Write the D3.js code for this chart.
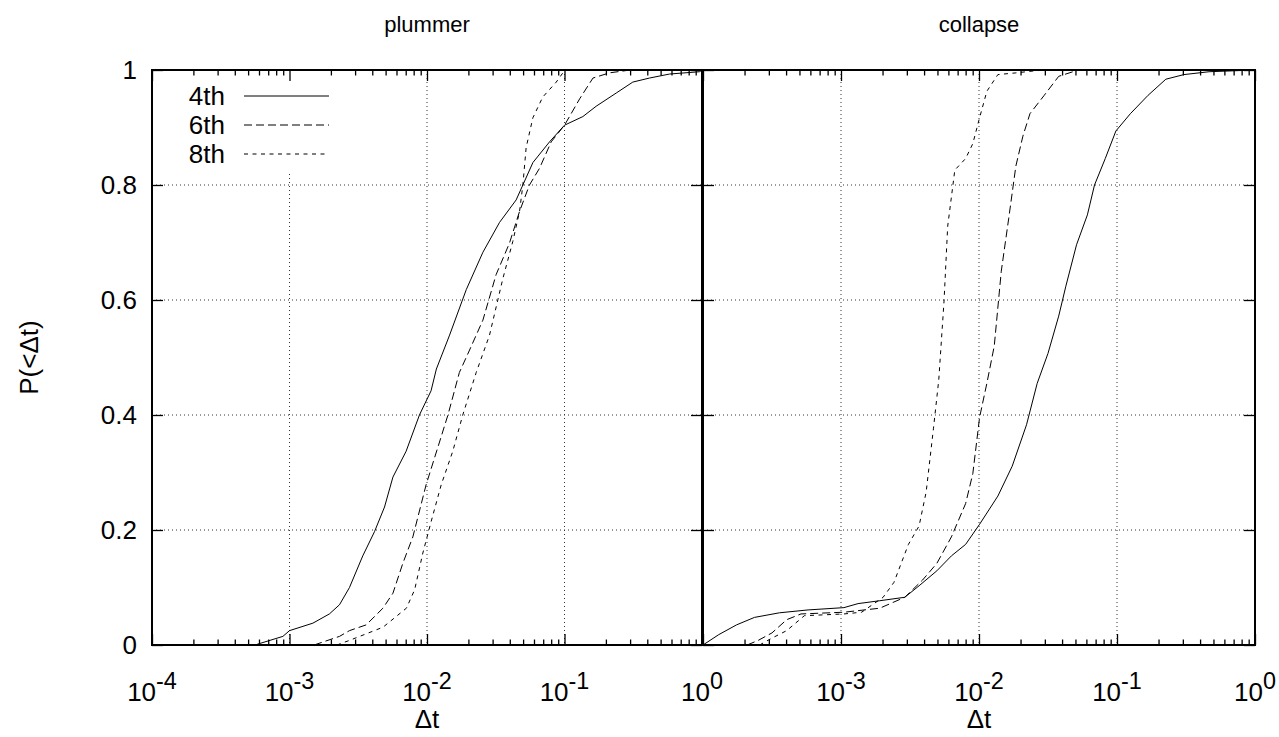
<!DOCTYPE html>
<html><head><meta charset="utf-8">
<script src="https://cdn.jsdelivr.net/npm/d3@7"></script>
<style>
body{margin:0;background:#fff}
svg{display:block}
text{font-family:"Liberation Sans",Arial,Helvetica,sans-serif;fill:#000}
</style>
</head><body>
<svg id="chart" width="1279" height="737"></svg>
<script>
// ---------------- data ----------------
const panelTitles = ["plummer", "collapse"];
const seriesNames = ["4th", "6th", "8th"];
const xTickValues = [1e-4, 1e-3, 1e-2, 1e-1, 1];
const xTickExponents = ["-4", "-3", "-2", "-1", "0"];
const yTickValues = [0, 0.2, 0.4, 0.6, 0.8, 1];
const yTickLabels = ["0", "0.2", "0.4", "0.6", "0.8", "1"];
const xAxisTitle = "Δt";
const yAxisTitle = "P(<Δt)";

// plummer, 4th order
const plummer4Dt = [5.6e-4, 8.95e-4, 1.0e-3, 1.48e-3, 1.95e-3, 2.31e-3, 2.73e-3, 3.41e-3, 4.15e-3, 4.91e-3, 5.65e-3, 7.05e-3, 8.81e-3, 1.07e-2, 1.17e-2, 1.46e-2, 1.93e-2, 2.55e-2, 3.37e-2, 4.45e-2, 5.89e-2, 7.78e-2, 0.1, 0.136, 0.170, 0.238, 0.314, 0.415, 0.581, 0.959, 1.0];
const plummer4P  = [0, 0.015, 0.025, 0.038, 0.054, 0.070, 0.10, 0.155, 0.197, 0.24, 0.292, 0.337, 0.40, 0.442, 0.48, 0.539, 0.618, 0.683, 0.735, 0.774, 0.839, 0.875, 0.904, 0.919, 0.937, 0.96, 0.979, 0.986, 0.993, 0.997, 1.0];
// plummer, 6th order
const plummer6Dt = [1.51e-3, 2.31e-3, 2.73e-3, 3.61e-3, 4.78e-3, 5.65e-3, 6.67e-3, 7.89e-3, 9.86e-3, 1.20e-2, 1.42e-2, 1.72e-2, 2.04e-2, 2.55e-2, 3.18e-2, 3.98e-2, 4.71e-2, 5.56e-2, 6.58e-2, 8.0e-2, 0.1, 0.129, 0.161, 0.212, 0.281, 0.316];
const plummer6P  = [0, 0.015, 0.025, 0.035, 0.064, 0.09, 0.142, 0.188, 0.279, 0.344, 0.40, 0.474, 0.513, 0.565, 0.644, 0.699, 0.754, 0.80, 0.829, 0.875, 0.904, 0.95, 0.986, 0.995, 0.999, 1.0];
// plummer, 8th order
const plummer8Dt = [2.21e-3, 2.73e-3, 4.79e-3, 7.08e-3, 8.13e-3, 9.33e-3, 1.07e-2, 1.27e-2, 1.54e-2, 1.82e-2, 2.28e-2, 2.85e-2, 3.56e-2, 4.21e-2, 4.71e-2, 4.98e-2, 5.26e-2, 5.89e-2, 6.95e-2, 8.71e-2, 0.1, 0.105];
const plummer8P  = [0, 0.008, 0.031, 0.064, 0.096, 0.16, 0.214, 0.279, 0.337, 0.40, 0.474, 0.539, 0.637, 0.702, 0.754, 0.80, 0.865, 0.917, 0.953, 0.979, 0.999, 1.0];

// collapse, 4th order
const collapse4Dt = [1.0e-4, 1.30e-4, 1.75e-4, 2.36e-4, 3.58e-4, 5.77e-4, 1.05e-3, 1.33e-3, 1.91e-3, 2.90e-3, 3.68e-3, 4.95e-3, 6.31e-3, 8.0e-3, 1.01e-2, 1.37e-2, 1.74e-2, 2.21e-2, 2.64e-2, 3.16e-2, 3.78e-2, 4.26e-2, 5.09e-2, 6.10e-2, 6.87e-2, 8.22e-2, 9.82e-2, 0.125, 0.168, 0.226, 0.305, 0.465, 1.0];
const collapse4P  = [0, 0.018, 0.035, 0.048, 0.056, 0.061, 0.065, 0.072, 0.077, 0.083, 0.103, 0.129, 0.155, 0.175, 0.21, 0.259, 0.311, 0.383, 0.455, 0.507, 0.572, 0.624, 0.696, 0.748, 0.80, 0.846, 0.894, 0.924, 0.956, 0.984, 0.992, 0.997, 1.0];
// collapse, 6th order
const collapse6Dt = [2.09e-4, 2.51e-4, 3.16e-4, 4.04e-4, 5.13e-4, 1.05e-3, 1.91e-3, 2.90e-3, 3.90e-3, 4.95e-3, 6.31e-3, 8.0e-3, 9.02e-3, 1.01e-2, 1.14e-2, 1.29e-2, 1.45e-2, 1.64e-2, 1.85e-2, 2.08e-2, 2.34e-2, 2.97e-2, 3.78e-2, 5.09e-2, 6.46e-2];
const collapse6P  = [0, 0.008, 0.021, 0.044, 0.054, 0.057, 0.064, 0.083, 0.113, 0.142, 0.188, 0.246, 0.298, 0.396, 0.455, 0.52, 0.65, 0.741, 0.833, 0.885, 0.924, 0.956, 0.989, 0.999, 1.0];
// collapse, 8th order
const collapse8Dt = [2.57e-4, 3.16e-4, 4.04e-4, 5.43e-4, 1.05e-3, 1.41e-3, 2.02e-3, 2.42e-3, 3.08e-3, 3.68e-3, 4.14e-3, 4.68e-3, 5.11e-3, 5.58e-3, 5.93e-3, 6.68e-3, 8.0e-3, 9.02e-3, 1.01e-2, 1.14e-2, 1.37e-2, 1.85e-2, 2.63e-2, 3.80e-2];
const collapse8P  = [0, 0.012, 0.025, 0.051, 0.054, 0.057, 0.083, 0.109, 0.175, 0.207, 0.266, 0.377, 0.461, 0.598, 0.728, 0.826, 0.846, 0.872, 0.917, 0.963, 0.992, 0.995, 0.999, 1.0];

// ---------------- drawing ----------------
const svg = d3.select("#chart");
const FONT = 26;
const TITLE_FONT = 22;
const yTop = 70, yBot = 645;
const layout = [{x0: 152, x1: 702}, {x0: 703, x1: 1255}];
const dashes = ["none", "8,4", "4,4.5"];
const panelData = [
  [[plummer4Dt, plummer4P], [plummer6Dt, plummer6P], [plummer8Dt, plummer8P]],
  [[collapse4Dt, collapse4P], [collapse6Dt, collapse6P], [collapse8Dt, collapse8P]]
];

const y = d3.scaleLinear().domain([0, 1]).range([yBot, yTop]);

panelTitles.forEach((title, pi) => {
  const L = layout[pi];
  const x = d3.scaleLog().domain([1e-4, 1]).range([L.x0, L.x1]);
  const g = svg.append("g");

  // grid
  const grid = g.append("g").attr("stroke", "#333").attr("stroke-width", 1).attr("stroke-dasharray", "1,3");
  xTickValues.slice(1, -1).forEach(v => {
    grid.append("line").attr("x1", x(v)).attr("x2", x(v)).attr("y1", yTop).attr("y2", yBot);
  });
  yTickValues.slice(1, -1).forEach(v => {
    grid.append("line").attr("x1", L.x0).attr("x2", L.x1).attr("y1", y(v)).attr("y2", y(v));
  });

  // legend background (opaque box)
  if (pi === 0) {
    g.append("rect").attr("x", 160).attr("y", yTop + 2).attr("width", 178).attr("height", 100).attr("fill", "#fff");
  }

  // ticks via axes
  const minor = x.ticks().filter(v => !xTickValues.some(t => Math.abs(Math.log10(v) - Math.log10(t)) < 1e-6));
  const axB1 = d3.axisBottom(x).tickValues(minor).tickSizeInner(-5.5).tickSizeOuter(0).tickFormat("");
  const axB2 = d3.axisBottom(x).tickValues(xTickValues).tickSizeInner(-11).tickSizeOuter(0).tickFormat("");
  const axT1 = d3.axisTop(x).tickValues(minor).tickSizeInner(-5.5).tickSizeOuter(0).tickFormat("");
  const axT2 = d3.axisTop(x).tickValues(xTickValues).tickSizeInner(-11).tickSizeOuter(0).tickFormat("");
  const axL = d3.axisLeft(y).tickValues(yTickValues).tickSizeInner(-11).tickSizeOuter(0).tickFormat("");
  const axR = d3.axisRight(y).tickValues(yTickValues).tickSizeInner(-11).tickSizeOuter(0).tickFormat("");
  [[axB1, `translate(0,${yBot})`], [axB2, `translate(0,${yBot})`], [axT1, `translate(0,${yTop})`], [axT2, `translate(0,${yTop})`],
   [axL, `translate(${L.x0},0)`], [axR, `translate(${L.x1},0)`]].forEach(([ax, tr]) => {
    const a = g.append("g").attr("transform", tr).call(ax);
    a.select(".domain").remove();
    a.selectAll("line").attr("stroke", "#000").attr("stroke-width", 1.3);
  });

  // curves
  const line = d3.line().x(d => x(d[0])).y(d => y(d[1]));
  panelData[pi].forEach((s, si) => {
    const pts = s[0].map((v, i) => [v, s[1][i]]);
    g.append("path").attr("d", line(pts)).attr("fill", "none").attr("stroke", "#000")
      .attr("stroke-width", 1).attr("stroke-dasharray", dashes[si]);
  });

  // frame
  g.append("rect").attr("x", L.x0).attr("y", yTop).attr("width", L.x1 - L.x0).attr("height", yBot - yTop)
    .attr("fill", "none").attr("stroke", "#000").attr("stroke-width", 2);

  // x tick labels
  xTickValues.forEach((v, i) => {
    if (pi === 1 && i === 0) return;
    const t = g.append("text").attr("x", x(v)).attr("y", 701).attr("text-anchor", "middle").attr("font-size", FONT);
    t.append("tspan").text("10");
    t.append("tspan").attr("dy", -12).attr("font-size", FONT * 0.9).text(xTickExponents[i]);
  });

  // y tick labels (left panel only)
  if (pi === 0) {
    yTickValues.forEach((v, i) => {
      g.append("text").attr("x", L.x0 - 15).attr("y", y(v)).attr("dy", "0.35em").attr("text-anchor", "end")
        .attr("font-size", FONT).text(yTickLabels[i]);
    });
  }

  // titles
  const cx = (L.x0 + L.x1) / 2;
  g.append("text").attr("x", cx).attr("y", 32).attr("text-anchor", "middle").attr("font-size", TITLE_FONT).text(title);
  g.append("text").attr("x", cx).attr("y", 728).attr("text-anchor", "middle").attr("font-size", FONT).text(xAxisTitle);

  // legend
  if (pi === 0) {
    seriesNames.forEach((n, si) => {
      const ly = 96 + si * 29;
      g.append("text").attr("x", 225).attr("y", ly).attr("dy", "0.35em").attr("text-anchor", "end").attr("font-size", FONT).text(n);
      g.append("line").attr("x1", 244).attr("x2", 329).attr("y1", ly).attr("y2", ly)
        .attr("stroke", "#000").attr("stroke-width", 1).attr("stroke-dasharray", dashes[si]);
    });
  }
});

svg.append("text").attr("transform", `translate(38,${(yTop + yBot) / 2}) rotate(-90)`).attr("text-anchor", "middle")
  .attr("font-size", FONT).text(yAxisTitle);
</script>
</body></html>
